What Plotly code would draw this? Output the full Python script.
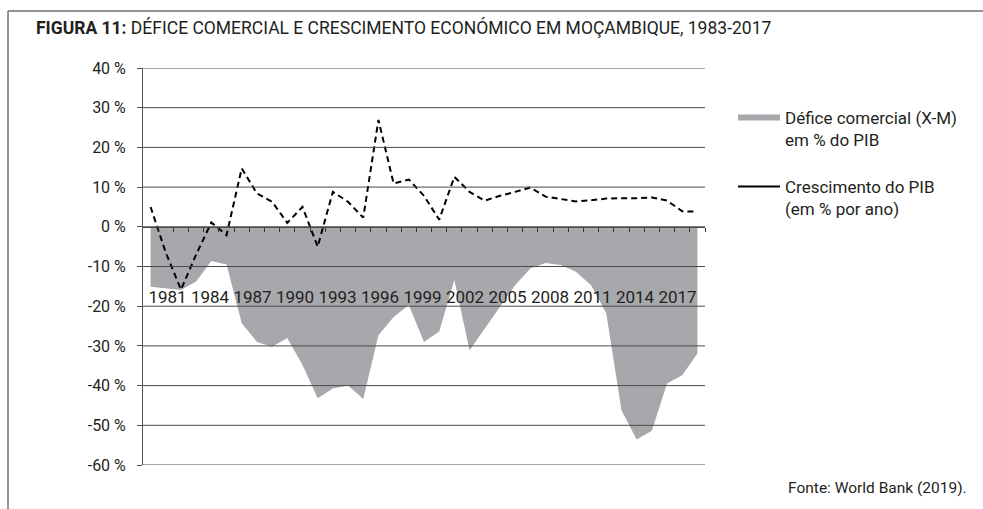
import plotly.graph_objects as go

# Years on the category axis
years = list(range(1981, 2018))

# Trade balance (exports - imports) as % of GDP
trade_deficit = [
    -15.1, -15.5, -15.9, -13.8, -8.6, -9.5, -24.3, -29.0, -30.2, -28.0,
    -34.8, -43.2, -40.7, -40.0, -43.4, -27.3, -22.7, -19.7, -29.0, -26.4,
    -13.4, -31.1, -25.6, -20.1, -14.7, -10.5, -9.1, -9.6, -11.3, -14.7,
    -21.8, -46.2, -53.6, -51.4, -39.5, -37.4, -31.9,
]

# GDP growth (% per year)
gdp_growth = [
    5.0, -6.5, -15.8, -7.0, 1.1, -2.1, 14.7, 8.4, 6.3, 1.0,
    5.0, -5.0, 8.8, 6.3, 2.3, 26.9, 10.9, 11.9, 7.8, 1.8,
    12.6, 8.8, 6.6, 7.8, 8.8, 9.9, 7.6, 7.0, 6.4, 6.7,
    7.1, 7.2, 7.2, 7.4, 6.6, 3.9, 3.8,
]

# Axis labels
label_years = list(range(1981, 2018, 3))
y_ticks = [40, 30, 20, 10, 0, -10, -20, -30, -40, -50, -60]
y_ticktext = [f"{v} %" for v in y_ticks]

FONT = "Roboto, Liberation Sans, sans-serif"
TXT = "#231f20"
AREA = "#a7a8ab"
GRID = "#4a4a4a"

# plot-area geometry (pixels)
W, H = 983, 509
L, R, T, B = 143, 278, 68, 44
PW, PH = W - L - R, H - T - B


def px(x):
    return (x - L) / PW


def py(y):
    return (H - B - y) / PH


fig = go.Figure()

fig.add_trace(go.Scatter(
    x=years, y=trade_deficit, mode="lines", fill="tozeroy",
    fillcolor=AREA, line=dict(width=0, color=AREA),
    showlegend=False, hoverinfo="skip",
))
fig.add_trace(go.Scatter(
    x=years, y=gdp_growth, mode="lines",
    line=dict(color="black", width=2, dash="6px,4px"),
    showlegend=False, hoverinfo="skip",
))

# carrier for the year-label axis
fig.add_trace(go.Scatter(
    x=label_years, y=[None] * len(label_years), xaxis="x2",
    mode="lines", showlegend=False, hoverinfo="skip",
))

# legend entries
fig.add_trace(go.Scatter(
    x=[None], y=[None], mode="lines",
    line=dict(color=AREA, width=6),
    name="Défice comercial (X-M)<br>em % do PIB", legend="legend",
))
fig.add_trace(go.Scatter(
    x=[None], y=[None], mode="lines",
    line=dict(color="black", width=2),
    name="Crescimento do PIB<br>(em % por ano)", legend="legend2",
))

# gridlines drawn over the filled area
shapes = [
    dict(type="line", xref="paper", yref="y", x0=0, x1=1, y0=v, y1=v,
         line=dict(color=GRID, width=1), layer="above")
    for v in y_ticks
]
# frame around the figure
shapes += [
    dict(type="line", xref="paper", yref="paper",
         x0=px(8), x1=px(W + 5), y0=py(11), y1=py(11),
         line=dict(color="#707070", width=1.5)),
    dict(type="line", xref="paper", yref="paper",
         x0=px(8), x1=px(8), y0=py(11), y1=py(H + 5),
         line=dict(color="#707070", width=1.5)),
]

fig.update_layout(
    width=W, height=H,
    margin=dict(l=L, r=R, t=T, b=B, pad=0),
    paper_bgcolor="white", plot_bgcolor="white",
    font=dict(family=FONT, color=TXT, size=16),
    shapes=shapes,
    xaxis=dict(
        range=[1980.5, 2017.5], anchor="free", position=0.6,
        showgrid=False, zeroline=False,
        showline=True, linecolor=GRID, linewidth=1,
        ticks="outside", ticklen=4, tickcolor="#333", tickwidth=1,
        tickvals=[y + 0.5 for y in years],
        showticklabels=False, layer="above traces",
    ),
    xaxis2=dict(
        range=[1979.27, 2018.94], overlaying="x", anchor="free",
        position=py(285), side="bottom",
        showgrid=False, zeroline=False, showline=False, ticks="",
        tickvals=label_years, ticktext=[str(y) for y in label_years],
        tickangle=0, tickfont=dict(size=17, color=TXT),
    ),
    yaxis=dict(
        range=[-60, 40], showgrid=False, zeroline=False,
        showline=True, linecolor="#555", linewidth=1,
        ticks="outside", ticklen=5, tickcolor="#555",
        ticklabelstandoff=8,
        tickvals=y_ticks, ticktext=y_ticktext,
        tickfont=dict(size=16, color=TXT),
    ),
    legend=dict(
        x=px(733), y=py(100), xanchor="left", yanchor="top",
        bgcolor="rgba(0,0,0,0)", itemwidth=42, valign="top",
        font=dict(size=17, color=TXT),
    ),
    legend2=dict(
        x=px(733), y=py(169), xanchor="left", yanchor="top",
        bgcolor="rgba(0,0,0,0)", itemwidth=42, valign="top",
        font=dict(size=17, color=TXT),
    ),
    annotations=[
        dict(text="<b>FIGURA 11:</b> DÉFICE COMERCIAL E CRESCIMENTO ECONÓMICO EM MOÇAMBIQUE, 1983-2017",
             xref="paper", yref="paper", x=px(34), y=py(28),
             xanchor="left", yanchor="middle", showarrow=False,
             font=dict(size=17.5, color=TXT)),
        dict(text="Fonte: World Bank (2019).",
             xref="paper", yref="paper", x=px(969), y=py(488),
             xanchor="right", yanchor="middle", showarrow=False,
             font=dict(size=15.5, color=TXT)),
    ],
)

fig.write_html("out.html")
